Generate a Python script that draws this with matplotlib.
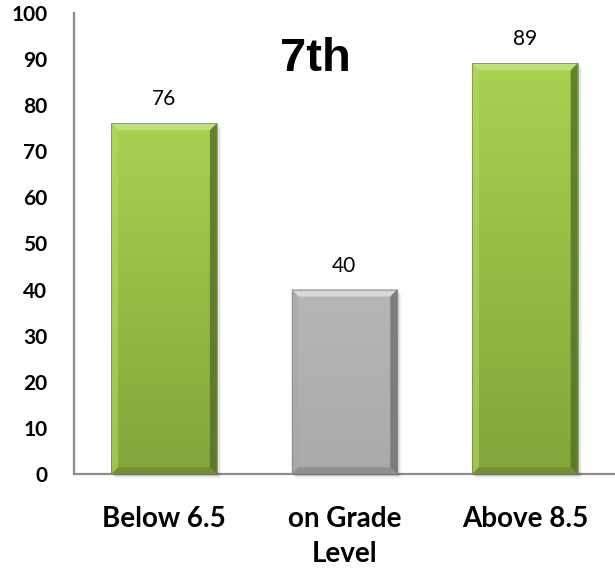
import numpy as np
import matplotlib
matplotlib.use("Agg")
import matplotlib.pyplot as plt
from matplotlib.patches import Polygon, Rectangle
from matplotlib.colors import LinearSegmentedColormap

categories = ["Below 6.5", "on Grade\nLevel", "Above 8.5"]
values = [76, 40, 89]
bar_kind = ["green", "gray", "green"]
title_text = "7th"
y_ticks = [0, 10, 20, 30, 40, 50, 60, 70, 80, 90, 100]

palettes = {
    "green": dict(top="#a9d150", bottom="#84a53a", hi="#c6e37e", side_l="#b4d860",
                  side_r="#56732a", low="#6f8d30"),
    "gray": dict(top="#b6b6b6", bottom="#aaaaaa", hi="#e0e0e0", side_l="#a8a8a8",
                 side_r="#747474", low="#8a8a8a"),
}

fig = plt.figure(figsize=(6.15, 5.7), dpi=100)
ax = fig.add_axes([0.120, 0.168, 0.880, 0.810])
ax.set_xlim(-0.5, 2.5)
ax.set_ylim(0, 100)

bar_w = 0.586
px_x = 181.0   # pixels per x unit
px_y = 4.61    # pixels per y unit
bev_x = 7 / px_x
bev_y = 7 / px_y

for i, (v, kind) in enumerate(zip(values, bar_kind)):
    p = palettes[kind]
    x0, x1 = i - bar_w / 2, i + bar_w / 2
    # soft drop shadow
    for k, a in enumerate([0.10, 0.07, 0.04]):
        off_x = (k + 1) * 1.5 / px_x
        off_y = (k + 1) * 1.5 / px_y
        ax.add_patch(Rectangle((x0 + off_x, -off_y), bar_w, v, facecolor="black",
                               alpha=a, edgecolor="none", zorder=1, clip_on=False))
    # vertical gradient body
    cmap = LinearSegmentedColormap.from_list("g", [p["bottom"], p["top"]])
    grad = np.linspace(0, 1, 256).reshape(-1, 1)
    ax.imshow(grad, extent=[x0, x1, 0, v], origin="lower", aspect="auto",
              cmap=cmap, zorder=2, interpolation="bilinear")
    # bevel faces
    top = Polygon([[x0, v], [x1, v], [x1 - bev_x, v - bev_y], [x0 + bev_x, v - bev_y]],
                  closed=True, facecolor=p["hi"], edgecolor="none", alpha=0.85, zorder=3)
    left = Polygon([[x0, 0], [x0, v], [x0 + bev_x, v - bev_y], [x0 + bev_x, bev_y]],
                   closed=True, facecolor=p["side_l"], edgecolor="none", alpha=0.6, zorder=3)
    right = Polygon([[x1, 0], [x1, v], [x1 - bev_x, v - bev_y], [x1 - bev_x, bev_y]],
                    closed=True, facecolor=p["side_r"], edgecolor="none", alpha=0.85, zorder=3)
    bottom = Polygon([[x0, 0], [x1, 0], [x1 - bev_x, bev_y], [x0 + bev_x, bev_y]],
                     closed=True, facecolor=p["low"], edgecolor="none", alpha=0.8, zorder=3)
    for poly in (top, left, right, bottom):
        ax.add_patch(poly)
    ax.add_patch(Rectangle((x0, 0), bar_w, v, facecolor="none",
                           edgecolor=p["side_r"], linewidth=0.6, alpha=0.6, zorder=4))
    ax.text(i, v + 3.0, str(v), ha="center", va="bottom", fontsize=15,
            family="Lato", color="black", zorder=5)

ax.text(0.84, 90.0, title_text, ha="center", va="center", fontsize=34,
        fontweight="bold", family="Liberation Sans", color="black")

for side in ("top", "right"):
    ax.spines[side].set_visible(False)
for side in ("left", "bottom"):
    ax.spines[side].set_color("#8c8c8c")
    ax.spines[side].set_linewidth(1.6)
    ax.spines[side].set_zorder(0.5)

ax.set_yticks(y_ticks)
ax.set_yticklabels([str(t) for t in y_ticks], fontsize=15, fontweight="bold", family="Lato")
ax.set_xticks(range(len(categories)))
ax.set_xticklabels(categories, fontsize=20, fontweight="bold", family="Lato",
                   linespacing=1.4)
ax.tick_params(axis="y", length=0, pad=19)
ax.tick_params(axis="x", length=0, pad=23)

fig.savefig("out.png", dpi=100)
